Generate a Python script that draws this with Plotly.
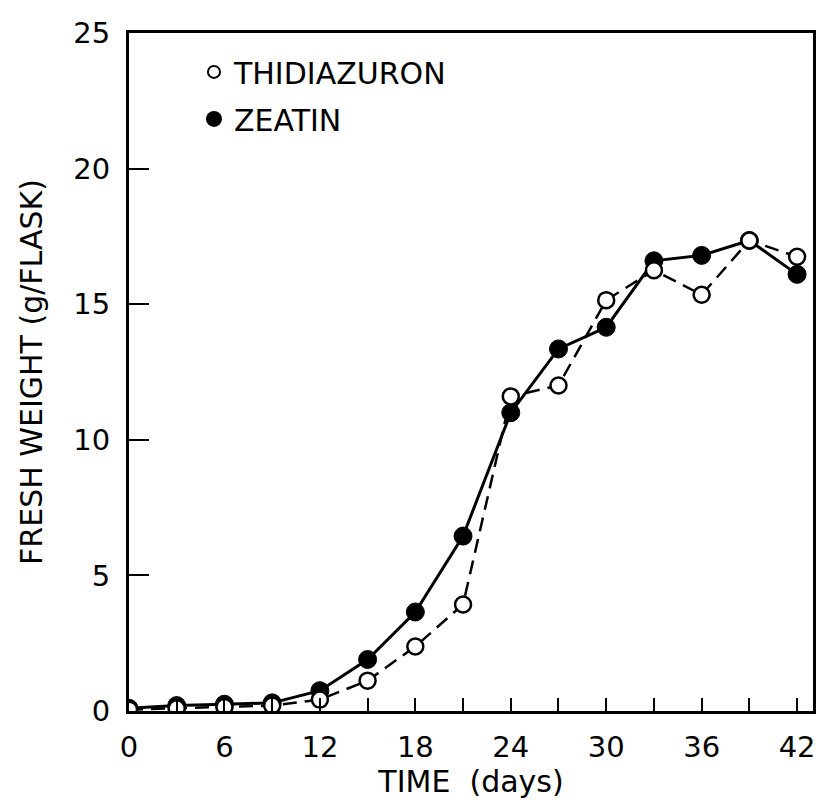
import plotly.graph_objects as go

days = [0, 3, 6, 9, 12, 15, 18, 21, 24, 27, 30, 33, 36, 39, 42]
zeatin = [0.1, 0.2, 0.25, 0.3, 0.75, 1.9, 3.65, 6.45, 11.0, 13.35, 14.15, 16.6, 16.8, 17.35, 16.1]
thidiazuron = [0.05, 0.1, 0.15, 0.2, 0.42, 1.12, 2.38, 3.93, 11.6, 12.0, 15.15, 16.25, 15.35, 17.35, 16.75]

x_ticks = [0, 6, 12, 18, 24, 30, 36, 42]
y_ticks = [0, 5, 10, 15, 20, 25]

FONT = "DejaVu Sans"

fig = go.Figure()

fig.add_trace(go.Scatter(
    x=days, y=zeatin, mode="lines+markers", name="ZEATIN",
    line=dict(color="black", width=3),
    marker=dict(symbol="circle", size=18, color="black", line=dict(color="black", width=1)),
    showlegend=False,
))
fig.add_trace(go.Scatter(
    x=days, y=thidiazuron, mode="lines+markers", name="THIDIAZURON",
    line=dict(color="black", width=2.5, dash="14px,8px"),
    marker=dict(symbol="circle", size=16, color="white", line=dict(color="black", width=2.5)),
    showlegend=False,
))

# legend-only entries (markers only, as in the original key)
fig.add_trace(go.Scatter(
    x=[None], y=[None], mode="markers", name="THIDIAZURON", legendgroup="a",
    marker=dict(symbol="circle", size=12, color="white", line=dict(color="black", width=2)),
))
fig.add_trace(go.Scatter(
    x=[None], y=[None], mode="markers", name="ZEATIN", legendgroup="b",
    marker=dict(symbol="circle", size=16, color="black"),
))

fig.update_layout(
    width=824, height=801,
    margin=dict(l=121, r=19, t=25, b=98),
    paper_bgcolor="white", plot_bgcolor="white",
    font=dict(family=FONT, color="black", size=29),
    showlegend=True,
    legend=dict(
        x=0.095, y=0.981, xanchor="left", yanchor="top",
        bgcolor="rgba(0,0,0,0)", borderwidth=0,
        font=dict(family=FONT, size=30, color="black"),
        tracegroupgap=5, itemwidth=30,
    ),
    xaxis=dict(
        range=[0, 43], tickvals=x_ticks, ticktext=[str(v) for v in x_ticks],
        ticks="inside", ticklen=13, tickwidth=2, tickcolor="black",
        minor=dict(dtick=3, tick0=0, ticks="inside", ticklen=13, tickwidth=2, tickcolor="black"),
        showline=True, linewidth=3, linecolor="black", mirror=True,
        showgrid=False, zeroline=False, automargin=False,
        ticklabelstandoff=8,
        title=dict(text="TIME  (days)", font=dict(family=FONT, size=30), standoff=4),
    ),
    yaxis=dict(
        range=[0, 25], tickvals=y_ticks, ticktext=[str(v) for v in y_ticks],
        ticks="inside", ticklen=20, tickwidth=2, tickcolor="black",
        showline=True, linewidth=3, linecolor="black", mirror=True,
        showgrid=False, zeroline=False, automargin=False,
        ticklabelstandoff=10,
        title=dict(text="FRESH WEIGHT (g/FLASK)", font=dict(family=FONT, size=30), standoff=22),
    ),
)

fig.write_html("out.html")
